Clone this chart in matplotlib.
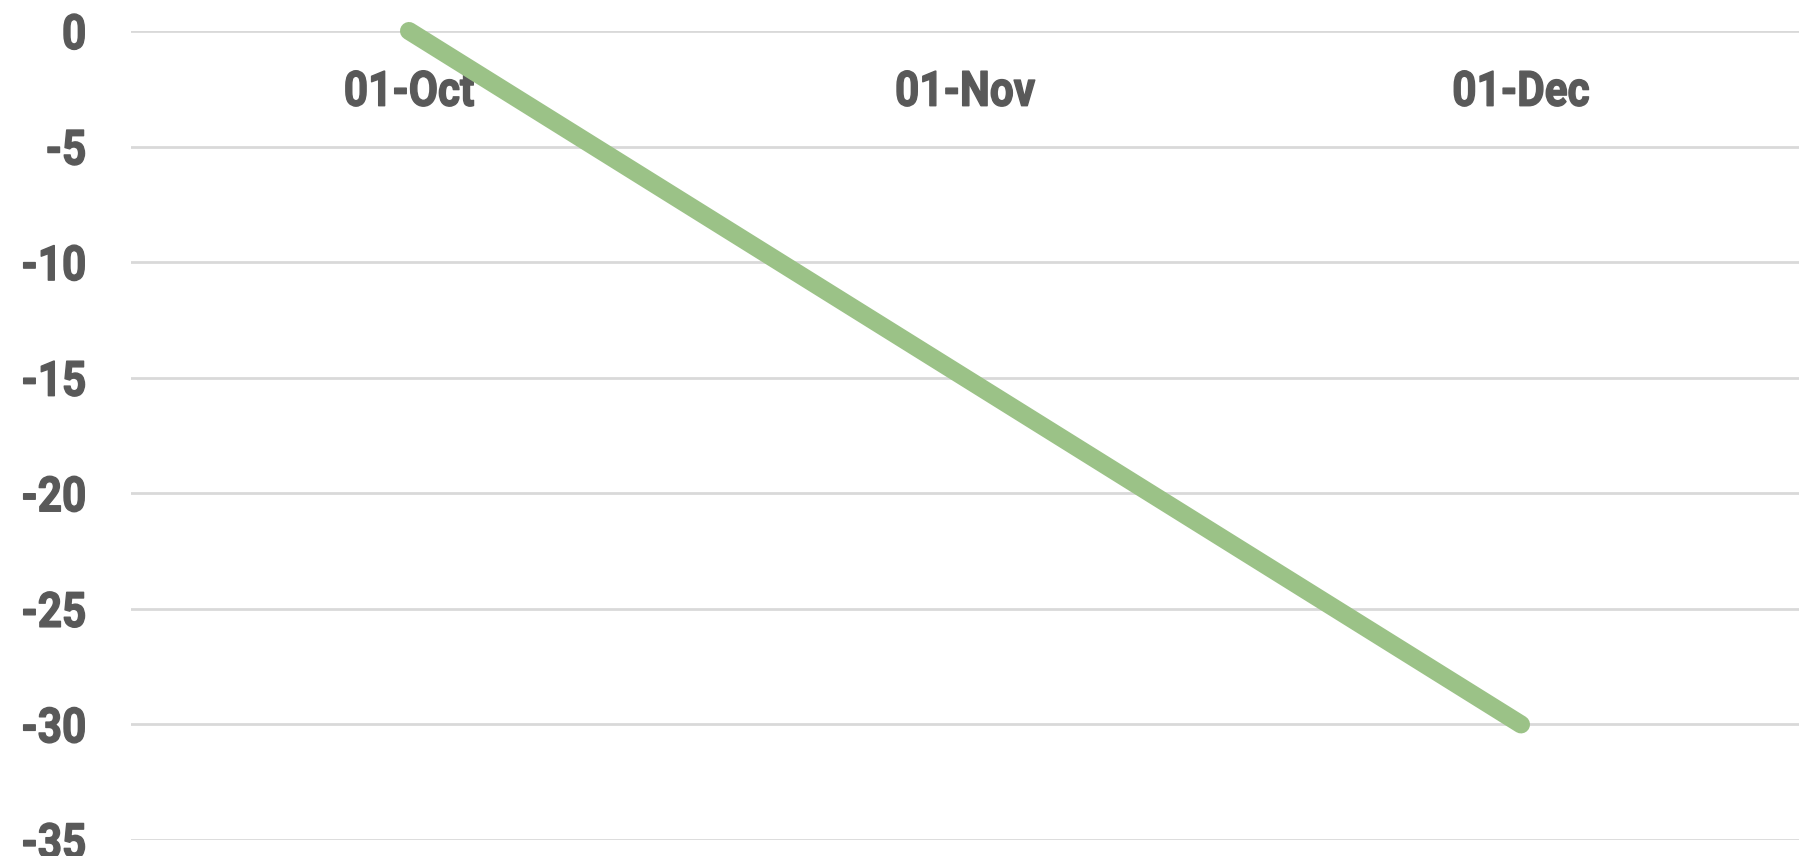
import matplotlib.pyplot as plt
from matplotlib import patheffects
from matplotlib.transforms import Affine2D

# data
categories = ['01-Oct', '01-Nov', '01-Dec']
values = [0, -15, -30]
y_ticks = [0, -5, -10, -15, -20, -25, -30, -35]

text_color = '#595959'
line_color = '#9BC287'
grid_color = '#D9D9D9'

plt.rcParams['font.family'] = ['Roboto', 'DejaVu Sans']
plt.rcParams['font.weight'] = 'bold'


class Narrow(patheffects.AbstractPathEffect):
    # squeeze glyphs sideways and thicken a bit (reference uses a condensed bold face)
    def __init__(self, sx=0.87, frac=0.5, stroke=1.0):
        super().__init__()
        self.sx, self.frac, self.stroke = sx, frac, stroke

    def draw_path(self, renderer, gc, tpath, affine, rgbFace=None):
        ext = tpath.get_extents()
        x0 = ext.x0 + self.frac * (ext.x1 - ext.x0)
        t = Affine2D().translate(-x0, 0).scale(self.sx, 1).translate(x0, 0) + affine
        gc0 = renderer.new_gc()
        gc0.copy_properties(gc)
        gc0.set_linewidth(self.stroke)
        gc0.set_foreground(rgbFace)
        renderer.draw_path(gc0, tpath, t, rgbFace)
        gc0.restore()


fig = plt.figure(figsize=(18.13, 8.56), dpi=100)
ax = fig.add_axes([131 / 1813, 16 / 856, 1668 / 1813, 809 / 856])

x = list(range(len(categories)))
ax.plot(x, values, color=line_color, linewidth=13, solid_capstyle='round', zorder=3, clip_on=False)

ax.set_xlim(-0.5, len(categories) - 0.5)
ax.set_ylim(-35, 0)
ax.set_yticks(y_ticks)
ax.set_yticklabels([str(v) for v in y_ticks])
ax.set_xticks(x)
ax.set_xticklabels(categories)

ax.grid(axis='y', color=grid_color, linewidth=2)
ax.set_axisbelow(True)
for s in ax.spines.values():
    s.set_visible(False)

ax.tick_params(axis='y', length=0, pad=32, labelsize=35, labelcolor=text_color)
ax.tick_params(axis='x', length=0, bottom=False, labelbottom=False, top=False, labeltop=True,
               pad=-61, labelsize=35, labelcolor=text_color)

for lbl in ax.get_yticklabels():
    lbl.set_path_effects([Narrow(0.87, 1.0)])
for tk in ax.xaxis.get_major_ticks():
    tk.label2.set_path_effects([Narrow(0.87, 0.5)])

fig.savefig('out.png', dpi=100)
